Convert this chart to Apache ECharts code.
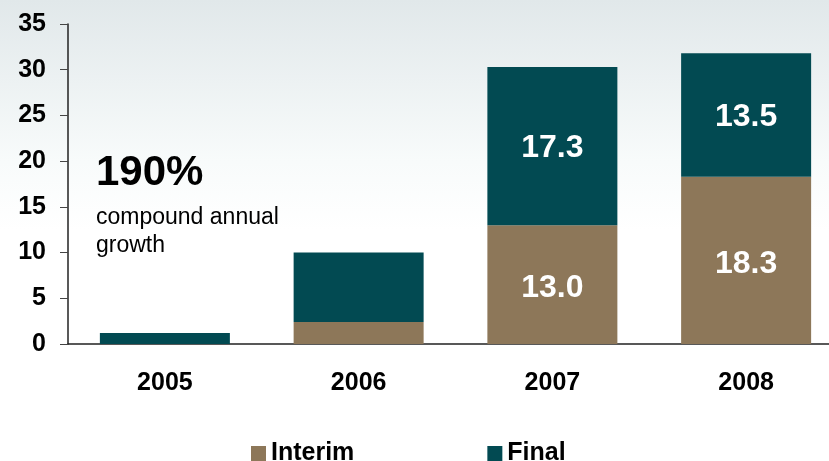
<!DOCTYPE html>
<html>
<head>
<meta charset="utf-8">
<script src="https://cdn.jsdelivr.net/npm/echarts@6/dist/echarts.min.js"></script>
<style>
  html, body { margin: 0; padding: 0; background: #fff; overflow: hidden; }
  /* the original plot runs past the right edge, so the canvas is a little wider than the window */
  #chart { width: 845px; height: 461px; }
</style>
</head>
<body>
<div id="chart"></div>
<script>
// data
const years = ['2005', '2006', '2007', '2008'];
const interim = [0, 2.4, 13.0, 18.3];
const finalDiv = [1.2, 7.6, 17.3, 13.5];
const yTicks = { min: 0, max: 35, interval: 5 };

const font = "'Liberation Sans', Arial, sans-serif";

let myChart = echarts.init(document.getElementById('chart'));

// only the big segments carry a label
const labelFmt = p => (p.value >= 10 ? p.value.toFixed(1) : '');

let option = {
    animation: false,
    backgroundColor: {
        type: 'linear', x: 0, y: 0, x2: 0, y2: 1,
        colorStops: [
            { offset: 0, color: '#e1e8ea' },
            { offset: 0.35, color: '#f8fbfb' },
            { offset: 0.5, color: '#ffffff' },
            { offset: 1, color: '#ffffff' }
        ]
    },
    textStyle: { fontFamily: font },
    grid: {
        left: 68,
        top: 24,
        right: 2,
        height: 320
    },
    legend: {
        left: 246,
        top: 436,
        icon: 'rect',
        itemWidth: 15,
        itemHeight: 15,
        itemGap: 133,
        itemStyle: { borderWidth: 0 },
        textStyle: {
            fontFamily: font,
            fontSize: 25,
            fontWeight: 'bold',
            color: '#000'
        },
        data: ['Interim', 'Final']
    },
    xAxis: {
        type: 'category',
        data: years,
        axisLine: { lineStyle: { color: '#222', width: 1.5 } },
        axisTick: { length: 8, lineStyle: { color: '#222' } },
        axisLabel: {
            margin: 27,
            fontSize: 25,
            fontWeight: 'bold',
            color: '#000',
            fontFamily: font
        }
    },
    yAxis: {
        type: 'value',
        min: yTicks.min,
        max: yTicks.max,
        interval: yTicks.interval,
        axisLine: { show: true, lineStyle: { color: '#222', width: 1.5 } },
        axisTick: { show: true, length: 8, lineStyle: { color: '#444' } },
        splitLine: { show: false },
        axisLabel: {
            margin: 22,
            fontSize: 25,
            fontWeight: 'bold',
            color: '#000',
            fontFamily: font
        }
    },
    graphic: [
        {
            type: 'text', left: 96, top: 152,
            style: { text: '190%', font: 'bold 42px ' + font, fill: '#000' }
        },
        {
            type: 'text', left: 96, top: 204,
            style: { text: 'compound annual\ngrowth', font: '23px ' + font, fill: '#000', lineHeight: 28 }
        }
    ],
    series: [
        {
            name: 'Interim',
            type: 'bar',
            stack: 'total',
            barWidth: 130,
            color: '#8d7759',
            label: {
                show: true,
                position: 'inside',
                offset: [0, 4],
                formatter: labelFmt,
                color: '#fff',
                fontSize: 32,
                fontWeight: 'bold',
                fontFamily: font
            },
            data: interim
        },
        {
            name: 'Final',
            type: 'bar',
            stack: 'total',
            barWidth: 130,
            color: '#024a52',
            label: {
                show: true,
                position: 'inside',
                offset: [0, 2],
                formatter: labelFmt,
                color: '#fff',
                fontSize: 32,
                fontWeight: 'bold',
                fontFamily: font
            },
            data: finalDiv
        }
    ]
};

myChart.setOption(option);
</script>
</body>
</html>
